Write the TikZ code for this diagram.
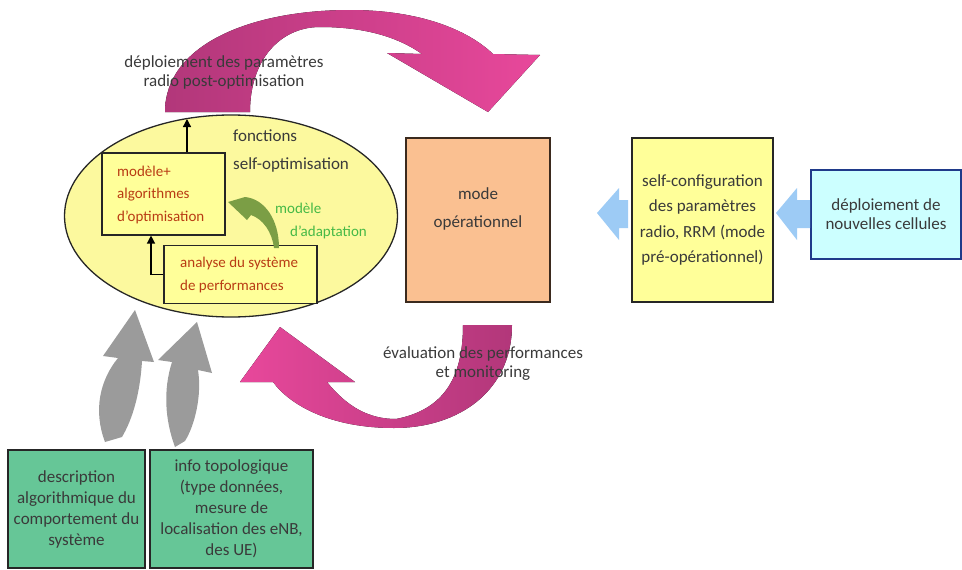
\documentclass[tikz,border=0pt]{standalone}
\usepackage{fontspec}
\setmainfont{Carlito}
\usetikzlibrary{shapes.geometric,arrows.meta,calc}
\definecolor{ellFill}{RGB}{252,249,158}
\definecolor{yelFill}{RGB}{255,255,153}
\definecolor{peach}{RGB}{250,192,145}
\definecolor{peachLine}{RGB}{59,42,30}
\definecolor{cyanFill}{RGB}{204,255,255}
\definecolor{cyanLine}{RGB}{31,58,138}
\definecolor{greenFill}{RGB}{102,198,151}
\definecolor{blueArrow}{RGB}{157,203,245}
\definecolor{grayArrow}{RGB}{155,155,155}
\definecolor{magDark}{RGB}{178,55,122}
\definecolor{magBright}{RGB}{232,72,155}
\definecolor{olive}{RGB}{123,158,69}
\definecolor{txtGray}{RGB}{58,58,58}
\definecolor{txtRed}{RGB}{185,60,20}
\definecolor{txtGreen}{RGB}{70,185,70}
\tikzset{
  plainbox/.style={draw=black!85, line width=1.1pt, inner sep=0pt, align=center, text=txtGray},
  innerbox/.style={draw=black!85, fill=yelFill, line width=1.1pt, inner sep=0pt},
  innertxt/.style={inner sep=0pt, align=left, text=txtRed, anchor=west, font=\fontsize{15}{22.5}\selectfont},
  lbl/.style={inner sep=0pt, text=txtGray, font=\fontsize{17}{19}\selectfont, align=center},
  blackarr/.style={line width=1.3pt, -{Triangle[length=8pt,width=8pt]}}
}
\begin{document}
\begin{tikzpicture}[x=1pt,y=-1pt]
\useasboundingbox (0,0) rectangle (962,570);

% top magenta arrow
\fill[left color=magDark, right color=magBright]
  (165,112) .. controls (165,45) and (250,10) .. (350,10)
  .. controls (420,10) and (468,30) .. (493,54) -- (540,55) -- (488,112) -- (387,53) -- (422,54)
  .. controls (395,35) and (360,27) .. (320,27)
  .. controls (280,27) and (250,60) .. (250,112) -- cycle;

% bottom magenta arrow
\fill[left color=magBright, right color=magDark]
  (280,327) -- (355,382) -- (327,382)
  .. controls (348,408) and (370,419) .. (396,419)
  .. controls (442,410) and (463,380) .. (463,325) -- (512,325)
  .. controls (512,390) and (460,428) .. (394,428)
  .. controls (330,428) and (290,405) .. (273,382) -- (240,382) -- cycle;

% ellipse
\node[ellipse, draw=black!85, fill=ellFill, line width=1.3pt, inner sep=0pt,
      minimum width=333pt, minimum height=202pt] (ell) at (231,216) {};

% inner boxes
\node[innerbox, minimum width=123pt, minimum height=82pt] (mod) at (163.5,194) {};
\node[innertxt] (modtxt) at (117,194.5) {modèle+\\algorithmes\\d’optimisation};
\node[innerbox, minimum width=153pt, minimum height=58pt] (ana) at (240.5,274.5) {};
\node[innertxt] (anatxt) at (180,275) {analyse du système\\de performances};

% black arrows
\coordinate (top) at (187,119);
\draw[blackarr] (mod.north -| top) -- (top);
\coordinate (bend) at (151,274.5);
\draw[line width=1.3pt] (ana.west) -- (bend);
\draw[blackarr] (bend) -- (bend |- mod.south);

% green curved arrow
\fill[olive]
  (228,202) -- (245,197) .. controls (265,199) and (279,220) .. (279,248)
  -- (274,248) .. controls (272,232) and (263,219) .. (251,215)
  -- (247,220) -- cycle;

% ellipse labels
\node[lbl, anchor=west, align=left, font=\fontsize{17}{28}\selectfont] (fonc) at (233,151)
  {fonctions\\self-optimisation};
\node[lbl, anchor=west, text=txtGreen, font=\fontsize{15}{18}\selectfont] (adapt1) at (275,208) {modèle};
\node[lbl, anchor=west, text=txtGreen, font=\fontsize{15}{18}\selectfont] (adapt2) at (290,232) {d’adaptation};

% top label
\node[lbl] (deploi) at (224,72.5) {déploiement des paramètres\\radio post-optimisation};

% mode opérationnel
\node[plainbox, fill=peach, draw=peachLine, line width=1.8pt, minimum width=144pt, minimum height=164pt] (mode) at (478,220) {};
\node[lbl, font=\fontsize{17}{28}\selectfont] (modetxt) at ($(mode.center)+(0,-11)$) {mode\\opérationnel};

% self-configuration
\node[plainbox, fill=yelFill, minimum width=141pt, minimum height=164pt, font=\fontsize{17}{25.5}\selectfont] (selfc) at (702.5,220)
  {self-configuration\\des paramètres\\radio, RRM (mode\\pré-opérationnel)};

% nouvelles cellules
\node[plainbox, fill=cyanFill, draw=cyanLine, minimum width=150pt, minimum height=89pt, font=\fontsize{17}{19}\selectfont] (newc) at (886,214.5)
  {déploiement de\\nouvelles cellules};

% blue arrows
\fill[blueArrow] (597,213) -- (619,188) -- (619,200) -- (628,200) -- (628,228) -- (619,228) -- (619,240) -- cycle;
\fill[blueArrow] (776,213) -- (797,188) -- (797,200) -- (810,200) -- (810,228) -- (797,228) -- (797,240) -- cycle;

% evaluation label
\node[lbl] (evalt) at (483,364) {évaluation des performances\\et monitoring};

% gray arrows
\fill[grayArrow] (135,310) -- (154,362) -- (142,361)
  .. controls (140,395) and (132,420) .. (122,437) -- (105,442)
  .. controls (93,410) and (100,380) .. (118,358) -- (103,356) -- cycle;
\fill[grayArrow] (197,322) -- (212,373) -- (198,370)
  .. controls (202,395) and (195,425) .. (185,441) -- (175,447)
  .. controls (165,420) and (163,390) .. (172,362) -- (158,360) -- cycle;

% green boxes
\node[plainbox, fill=greenFill, minimum width=137pt, minimum height=118pt, font=\fontsize{17}{21}\selectfont] (desc) at (76.5,509)
  {description\\algorithmique du\\comportement du\\système};
\node[plainbox, fill=greenFill, minimum width=163pt, minimum height=118pt, font=\fontsize{17}{21}\selectfont] (topo) at (231.5,509)
  {info topologique\\(type données,\\mesure de\\localisation des eNB,\\des UE)};
\end{tikzpicture}
\end{document}
